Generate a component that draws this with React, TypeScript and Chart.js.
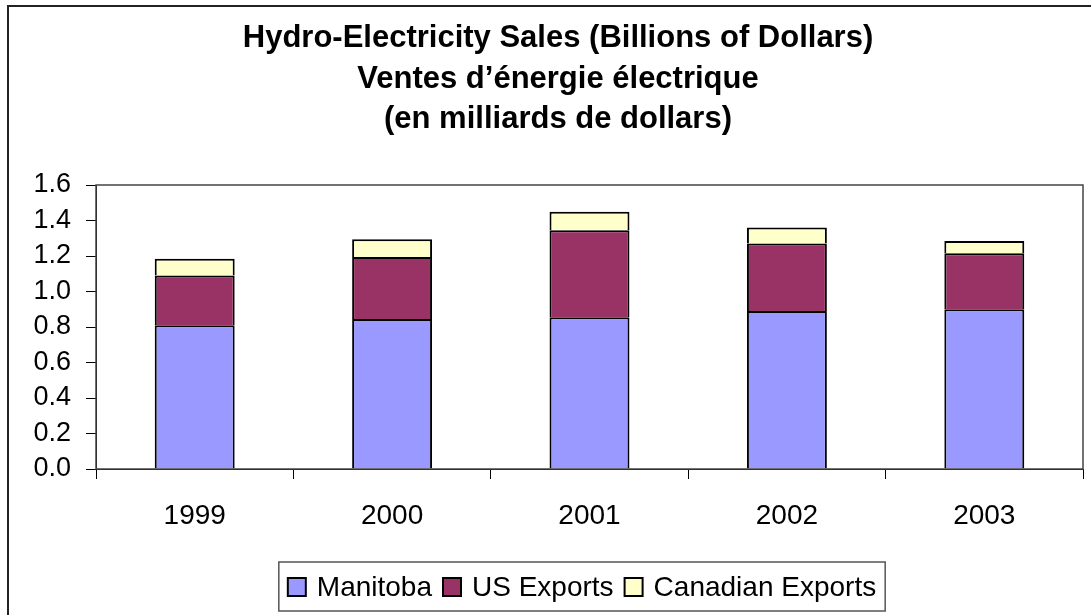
import React, { useEffect, useRef } from "react";
import { Chart, registerables } from "chart.js";

Chart.register(...registerables);

const categories = ["1999", "2000", "2001", "2002", "2003"];
const manitoba = [0.81, 0.845, 0.855, 0.89, 0.9];
const usExports = [0.28, 0.35, 0.49, 0.38, 0.315];
const canadianExports = [0.095, 0.1, 0.105, 0.09, 0.07];
const titleLines = [
  "Hydro-Electricity Sales (Billions of Dollars)",
  "Ventes d\u2019\u00e9nergie \u00e9lectrique",
  "(en milliards de dollars)",
];
const FONT = "'Liberation Sans', Arial, sans-serif";

const framePlugin = {
  id: "frames",
  beforeDraw(chart: any) {
    const { ctx } = chart;
    ctx.save();
    ctx.fillStyle = "#fff";
    ctx.fillRect(0, 0, chart.width, chart.height);
    ctx.strokeStyle = "#222";
    ctx.lineWidth = 2;
    ctx.strokeRect(8, 6, chart.width + 20, chart.height + 20);
    // title
    ctx.fillStyle = "#000";
    ctx.font = `bold 31px ${FONT}`;
    ctx.textAlign = "center";
    ctx.textBaseline = "alphabetic";
    const baselines = [47, 88, 128];
    titleLines.forEach((t, i) => ctx.fillText(t, 558, baselines[i]));
    ctx.restore();
  },
  afterDraw(chart: any) {
    const { ctx, chartArea: a } = chart;
    ctx.save();
    ctx.strokeStyle = "#444";
    ctx.lineWidth = 1.5;
    ctx.strokeRect(a.left, a.top, a.right - a.left, a.bottom - a.top);
    // legend
    const ds = chart.data.datasets;
    ctx.font = `28px ${FONT}`;
    ctx.textBaseline = "alphabetic";
    const box = 18;
    const gap = 11;
    const itemGap = 11;
    const widths = ds.map((d: any) => box + gap + ctx.measureText(d.label).width);
    const total = widths.reduce((s: number, w: number) => s + w, 0) + itemGap * (ds.length - 1);
    const padX = 9;
    const cx = 582;
    const lx = cx - total / 2 - padX;
    const ly = 562;
    const lh = 49;
    ctx.strokeStyle = "#555";
    ctx.lineWidth = 1.5;
    ctx.strokeRect(lx, ly, total + padX * 2, lh);
    let x = lx + padX;
    ds.forEach((d: any, i: number) => {
      ctx.fillStyle = d.backgroundColor;
      ctx.fillRect(x, 578, box, box);
      ctx.strokeStyle = "#000";
      ctx.lineWidth = 2;
      ctx.strokeRect(x, 578, box, box);
      ctx.fillStyle = "#000";
      ctx.textAlign = "left";
      ctx.fillText(d.label, x + box + gap, 596);
      x += widths[i] + itemGap;
    });
    ctx.restore();
  },
};

export default function App() {
  const ref = useRef<HTMLCanvasElement | null>(null);
  useEffect(() => {
    if (!ref.current) return;
    const chart = new Chart(ref.current, {
      type: "bar",
      data: {
        labels: categories,
        datasets: [
          { label: "Manitoba", data: manitoba, backgroundColor: "#9999FF", borderColor: "#000", borderWidth: 2 },
          { label: "US Exports", data: usExports, backgroundColor: "#993366", borderColor: "#000", borderWidth: 2 },
          { label: "Canadian Exports", data: canadianExports, backgroundColor: "#FFFFCC", borderColor: "#000", borderWidth: 2 },
        ],
      },
      options: {
        responsive: false,
        animation: false,
        layout: { padding: { left: 0, right: 8, top: 185, bottom: 46 } },
        datasets: { bar: { barPercentage: 0.405, categoryPercentage: 1 } },
        plugins: {
          legend: { display: false },
          tooltip: { enabled: false },
          title: { display: false },
        },
        scales: {
          x: {
            stacked: true,
            grid: { display: true, drawOnChartArea: false, offset: true, tickLength: 10, color: "#000", lineWidth: 1 },
            border: { display: true, color: "#000", width: 1 },
            ticks: { color: "#000", font: { family: FONT, size: 28 }, padding: 20, maxRotation: 0, autoSkip: false },
            afterFit: (s: any) => { s.height = 100; },
          },
          y: {
            stacked: true,
            min: 0,
            max: 1.6,
            grid: { display: true, drawOnChartArea: false, tickLength: 10, color: "#000", lineWidth: 1 },
            border: { display: true, color: "#000", width: 1 },
            ticks: {
              stepSize: 0.2,
              autoSkip: false,
              color: "#000",
              padding: 15,
              font: { family: FONT, size: 27 },
              callback: (v: any) => Number(v).toFixed(1),
            },
            afterFit: (s: any) => { s.width = 96; },
          },
        },
      },
      plugins: [framePlugin],
    });
    return () => chart.destroy();
  }, []);
  return (
    <div style={{ position: "fixed", left: 0, top: 0 }}>
      <canvas ref={ref} width={1091} height={615} style={{ display: "block" }} />
    </div>
  );
}
